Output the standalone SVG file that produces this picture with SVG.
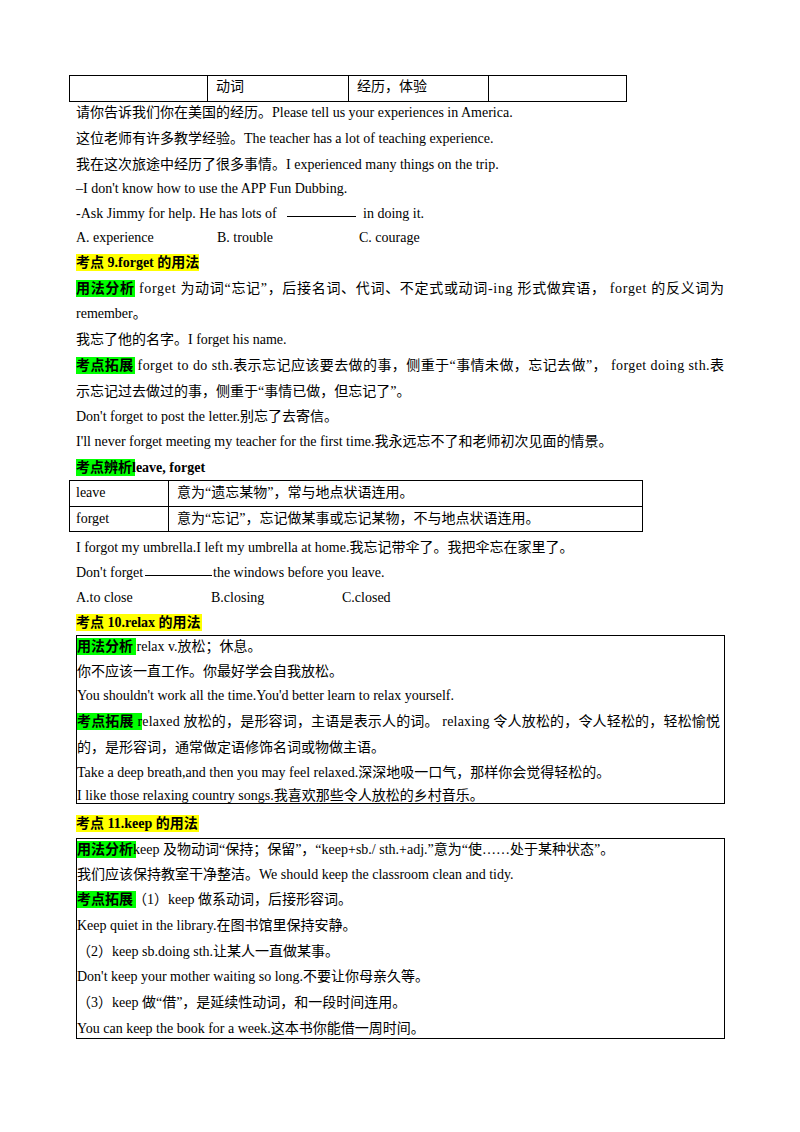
<svg xmlns="http://www.w3.org/2000/svg" width="800" height="1132" viewBox="0 0 800 1132">
<style>
text{font-family:"Liberation Serif","Noto Sans CJK SC",serif;font-size:14px;fill:#000}
.b{font-weight:bold}
.y{fill:#ffff00}
.g{fill:#00ff00}
.ln{stroke:#000;stroke-width:1;fill:none}
</style>
<rect width="800" height="1132" fill="#fff"/>
<g id="table1">
<rect class="ln" x="69.5" y="75.5" width="557" height="26"/>
<line class="ln" x1="207.5" y1="75" x2="207.5" y2="102"/>
<line class="ln" x1="348.5" y1="75" x2="348.5" y2="102"/>
<line class="ln" x1="488.5" y1="75" x2="488.5" y2="102"/>
<text x="216" y="91">动词</text>
<text x="357" y="91">经历，体验</text>
</g>
<g id="sec8">
<text x="76" y="117">请你告诉我们你在美国的经历。Please tell us your experiences in America.</text>
<text x="76" y="143">这位老师有许多教学经验。The teacher has a lot of teaching experience.</text>
<text x="76" y="169">我在这次旅途中经历了很多事情。I experienced many things on the trip.</text>
<text x="76" y="193">–I don't know how to use the APP Fun Dubbing.</text>
<text x="76" y="218">-Ask Jimmy for help. He has lots of</text>
<line class="ln" x1="287" y1="216.5" x2="356" y2="216.5"/>
<text x="363" y="218">in doing it.</text>
<text x="76" y="242">A. experience</text><text x="217" y="242">B. trouble</text><text x="359" y="242">C. courage</text>
</g>
<g id="sec9">
<rect class="y" x="76" y="254" width="123" height="17"/>
<text class="b" x="76" y="267">考点 9.forget 的用法</text>
<rect class="g" x="76" y="280" width="59" height="17"/>
<text x="76" y="293" textLength="648" lengthAdjust="spacing"><tspan class="b">用法分析</tspan>  forget 为动词“忘记”，后接名词、代词、不定式或动词-ing 形式做宾语，  forget 的反义词为</text>
<text x="76" y="318">remember。</text>
<text x="76" y="344">我忘了他的名字。I forget his name.</text>
<rect class="g" x="76" y="357" width="59" height="17"/>
<text x="76" y="370" textLength="648" lengthAdjust="spacing"><tspan class="b">考点拓展</tspan>  forget to do sth.表示忘记应该要去做的事，侧重于“事情未做，忘记去做”，  forget doing sth.表</text>
<text x="76" y="396">示忘记过去做过的事，侧重于“事情已做，但忘记了”。</text>
<text x="76" y="421">Don't forget to post the letter.别忘了去寄信。</text>
<text x="76" y="446">I'll never forget meeting my teacher for the first time.我永远忘不了和老师初次见面的情景。</text>
<rect class="g" x="76" y="459" width="59" height="17"/>
<text class="b" x="76" y="472">考点辨析leave, forget</text>
</g>
<g id="table2">
<rect class="ln" x="69.5" y="480.5" width="573" height="51"/>
<line class="ln" x1="69" y1="506.5" x2="643" y2="506.5"/>
<line class="ln" x1="168.5" y1="480" x2="168.5" y2="532"/>
<text x="76" y="497">leave</text>
<text x="177" y="497">意为“遗忘某物”，常与地点状语连用。</text>
<text x="76" y="523">forget</text>
<text x="177" y="523">意为“忘记”，忘记做某事或忘记某物，不与地点状语连用。</text>
</g>
<g id="sec9b">
<text x="76" y="552">I forgot my umbrella.I left my umbrella at home.我忘记带伞了。我把伞忘在家里了。</text>
<text x="76" y="577">Don't forget</text>
<line class="ln" x1="145" y1="575.5" x2="212" y2="575.5"/>
<text x="213" y="577">the windows before you leave.</text>
<text x="76" y="602">A.to close</text><text x="211" y="602">B.closing</text><text x="342" y="602">C.closed</text>
</g>
<g id="sec10">
<rect class="y" x="76" y="614" width="126" height="17"/>
<text class="b" x="76" y="627">考点 10.relax 的用法</text>
<rect class="ln" x="76.5" y="635.5" width="648" height="168"/>
<rect class="g" x="77" y="638" width="59" height="17"/>
<text x="77" y="651"><tspan class="b">用法分析</tspan>  relax v.放松；休息。</text>
<text x="77" y="676">你不应该一直工作。你最好学会自我放松。</text>
<text x="77" y="700">You shouldn't work all the time.You'd better learn to relax yourself.</text>
<rect class="g" x="77" y="713" width="65" height="17"/>
<text x="77" y="726" textLength="643" lengthAdjust="spacing"><tspan class="b">考点拓展</tspan> relaxed 放松的，是形容词，主语是表示人的词。 relaxing 令人放松的，令人轻松的，轻松愉悦</text>
<text x="77" y="752">的，是形容词，通常做定语修饰名词或物做主语。</text>
<text x="77" y="777">Take a deep breath,and then you may feel relaxed.深深地吸一口气，那样你会觉得轻松的。</text>
<text x="77" y="800">I like those relaxing country songs.我喜欢那些令人放松的乡村音乐。</text>
</g>
<g id="sec11">
<rect class="y" x="76" y="815" width="123" height="17"/>
<text class="b" x="76" y="828">考点 11.keep 的用法</text>
<rect class="ln" x="76.5" y="838.5" width="648" height="200"/>
<rect class="g" x="77" y="841" width="59" height="17"/>
<text x="77" y="854"><tspan class="b">用法分析</tspan>keep 及物动词“保持；保留”，“keep+sb./ sth.+adj.”意为“使……处于某种状态”。</text>
<text x="77" y="879">我们应该保持教室干净整洁。We should keep the classroom clean and tidy.</text>
<rect class="g" x="77" y="891" width="59" height="17"/>
<text x="77" y="904"><tspan class="b">考点拓展</tspan>（1）keep 做系动词，后接形容词。</text>
<text x="77" y="930">Keep quiet in the library.在图书馆里保持安静。</text>
<text x="77" y="956">（2）keep sb.doing sth.让某人一直做某事。</text>
<text x="77" y="981">Don't keep your mother waiting so long.不要让你母亲久等。</text>
<text x="77" y="1007">（3）keep 做“借”，是延续性动词，和一段时间连用。</text>
<text x="77" y="1033">You can keep the book for a week.这本书你能借一周时间。</text>
</g>
</svg>
